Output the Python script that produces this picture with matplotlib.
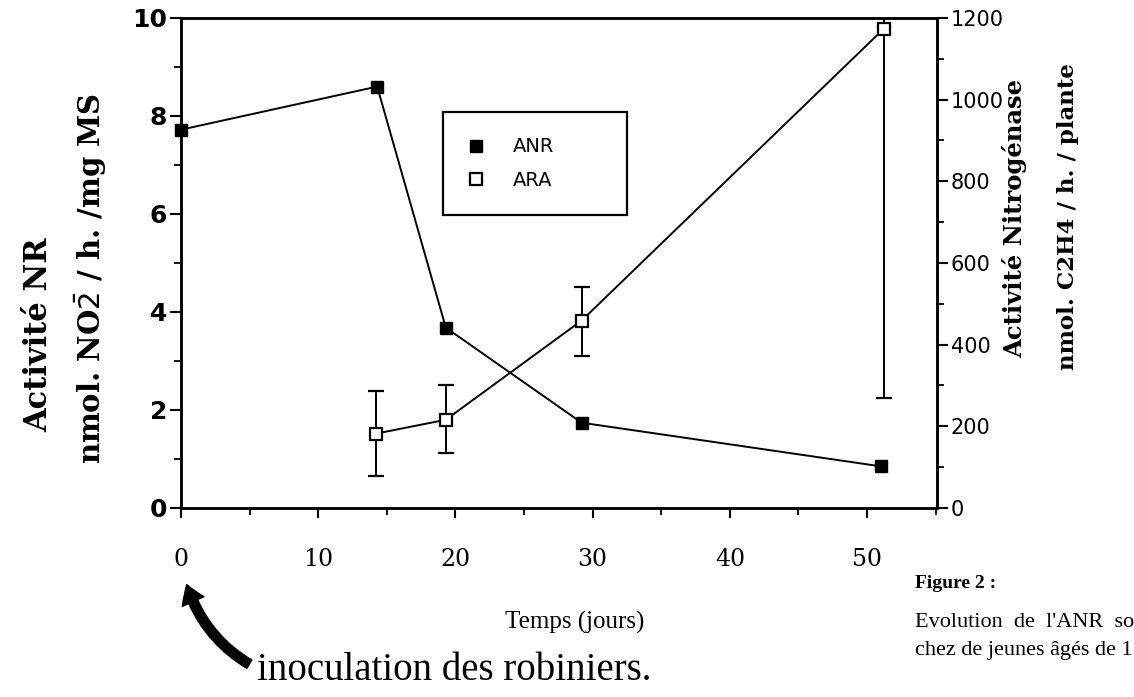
import matplotlib.pyplot as plt
from matplotlib.ticker import MultipleLocator

# ANR (left axis) - filled squares
days_anr = [0, 14.3, 19.3, 29.2, 51.0]
anr = [7.72, 8.6, 3.68, 1.74, 0.85]

# ARA (right axis) - open squares with error bars
days_ara = [14.2, 19.3, 29.2, 51.2]
ara = [182, 216, 459, 1173]
ara_err_low = [104, 81, 86, 903]
ara_err_high = [105, 86, 81, 903]

x_ticks = [0, 10, 20, 30, 40, 50]
left_ticks = [0, 2, 4, 6, 8, 10]
right_ticks = [0, 200, 400, 600, 800, 1000, 1200]

serif = 'Liberation Serif'
sans = 'DejaVu Sans'

fig = plt.figure(figsize=(11.34, 6.97), dpi=100)
ax = fig.add_axes([0.1596, 0.2712, 0.6667, 0.7030])
ax2 = ax.twinx()

anr_line, = ax.plot(days_anr, anr, color='black', lw=1.4, marker='s', ms=8.5,
                    mfc='black', mec='black', zorder=3, clip_on=False)
ara_eb = ax2.errorbar(days_ara, ara, yerr=[ara_err_low, ara_err_high],
                      color='black', lw=1.4, marker='s', ms=9, mfc='white',
                      mec='black', mew=1.6, capsize=6, capthick=1.4,
                      elinewidth=1.4, zorder=3)

ax.set_xlim(0, 55.1)
ax.set_ylim(0, 10)
ax2.set_ylim(0, 1200)

ax.set_xticks(x_ticks)
ax.xaxis.set_minor_locator(MultipleLocator(5))
ax.set_yticks(left_ticks)
ax.yaxis.set_minor_locator(MultipleLocator(1))
ax2.set_yticks(right_ticks)
ax2.yaxis.set_minor_locator(MultipleLocator(100))

for a in (ax, ax2):
    for s in a.spines.values():
        s.set_linewidth(1.8)
        s.set_color('black')

ax.tick_params(axis='x', which='major', direction='out', length=7, width=1.5,
               pad=22, labelsize=17)
ax.tick_params(axis='x', which='minor', direction='out', length=5, width=1.3)
ax.tick_params(axis='y', which='major', direction='out', length=8, width=1.5,
               pad=2, labelsize=18)
ax.tick_params(axis='y', which='minor', direction='out', length=5, width=1.3)
ax2.tick_params(axis='y', which='major', direction='out', length=8, width=1.5,
                pad=2, labelsize=15)
ax2.tick_params(axis='y', which='minor', direction='out', length=5, width=1.3)

for lab in ax.get_xticklabels():
    lab.set_fontfamily('DejaVu Serif')
for lab in ax.get_yticklabels():
    lab.set_fontfamily(sans)
    lab.set_fontweight('bold')
for lab in ax2.get_yticklabels():
    lab.set_fontfamily(sans)

# legend: markers only
leg = ax2.legend([anr_line, ara_eb[0]], ['ANR', 'ARA'], loc='upper left',
                 bbox_to_anchor=(0.3906, 0.70, 0.162, 0.139),
                 bbox_transform=fig.transFigure, mode='expand',
                 borderaxespad=0, handlelength=0.8, handletextpad=1.5,
                 labelspacing=0.75, borderpad=1.3, fancybox=False,
                 framealpha=1, edgecolor='black',
                 prop={'family': sans, 'size': 14})
leg.get_frame().set_linewidth(1.6)
for line in leg.get_lines():
    line.set_linestyle('none')

# axis titles
fig.text(0.034, 0.52, 'Activité NR', rotation=90, ha='center', va='center',
         family='DejaVu Serif', weight='bold', size=22)
fig.text(0.080, 0.60, r'nmol. NO$\bar{2}$ / h. /mg MS', rotation=90,
         ha='center', va='center', family='DejaVu Serif', weight='bold', size=21)
fig.text(0.895, 0.686, 'Activité Nitrogénase', rotation=90, ha='center',
         va='center', family='DejaVu Serif', weight='bold', size=17.5)
fig.text(0.942, 0.69, 'nmol. C2H4 / h. / plante', rotation=90,
         ha='center', va='center', family='DejaVu Serif', weight='bold', size=16.5)

fig.text(0.507, 0.107, 'Temps (jours)', ha='center', va='center',
         family=serif, size=18)
fig.text(0.227, 0.038, 'inoculation des robiniers.', ha='left', va='center',
         family=serif, size=28)

ax.annotate('', xy=(0.164, 0.165), xytext=(0.222, 0.045),
            xycoords='figure fraction', textcoords='figure fraction',
            arrowprops=dict(arrowstyle='simple,head_width=1.7,head_length=1.3,tail_width=0.7',
                            connectionstyle='arc3,rad=-0.2', color='black'))

# caption on the right (visible part only)
fig.text(0.807, 0.163, 'Figure 2 :', ha='left', va='center', family=serif,
         weight='bold', size=14)
fig.text(0.807, 0.107, "Evolution  de  l'ANR  so", ha='left', va='center',
         family=serif, size=16)
fig.text(0.807, 0.067, 'chez de jeunes âgés de 1', ha='left', va='center',
         family=serif, size=16)

fig.savefig('out.png', dpi=100)
